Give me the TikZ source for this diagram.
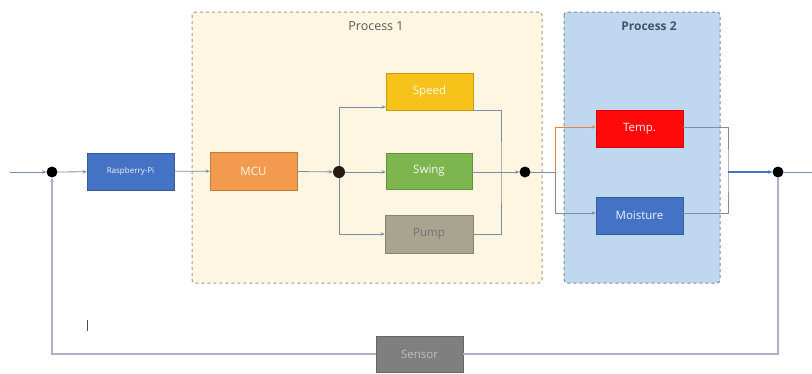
\documentclass[tikz,border=0pt]{standalone}
\usepackage{fontspec}
\setmainfont{Open Sans}
\usetikzlibrary{arrows.meta}
\definecolor{cBlue}{HTML}{4472C4}
\definecolor{cOrange}{HTML}{F29A4E}
\definecolor{cYellow}{HTML}{F7C21A}
\definecolor{cGreen}{HTML}{7DB54F}
\definecolor{cPump}{HTML}{A8A48F}
\definecolor{cRed}{HTML}{FF0A0A}
\definecolor{cSensor}{HTML}{7F7F7F}
\definecolor{pOneFill}{HTML}{FFF6E2}
\definecolor{pTwoFill}{HTML}{BFD8EF}
\definecolor{frameGray}{HTML}{9A9A9A}
\definecolor{lineCol}{HTML}{7F8CA6}
\definecolor{fbCol}{HTML}{A9B2C8}
\definecolor{slate}{HTML}{44546A}
\begin{document}
\begin{tikzpicture}[x=1pt,y=-1pt,
  blk/.style={draw=#1!80!black, fill=#1, line width=0.6pt, minimum width=87pt, minimum height=37pt, inner sep=0pt, text=white!92!#1, font=\fontsize{11.5}{13}\selectfont},
  dotnode/.style={circle, fill=black, minimum size=11pt, inner sep=0pt},
  conn/.style={draw=lineCol, line width=0.8pt},
  arr/.style={conn, -{Stealth[length=4pt,width=3.5pt]}},
  frame/.style={dashed, line width=1pt, draw=frameGray, rounded corners=3pt}]
\useasboundingbox (0,0) rectangle (812,373);
% process frames
\draw[frame, fill=pOneFill] (192,12) rectangle (542,283);
\draw[frame, fill=pTwoFill, draw=lineCol] (564,12) rectangle (720,283);
\node[text=black!65, font=\fontsize{12.5}{14}\selectfont] (p1) at (376,26) {Process 1};
\node[text=slate, font=\bfseries\fontsize{12}{14}\selectfont] (p2) at (649,26) {Process 2};
% blocks
\node[blk=cBlue, font=\fontsize{8}{9}\selectfont] (rpi) at (130.5,171.5) {Raspberry-Pi};
\node[blk=cOrange, minimum height=38pt] (mcu) at (253.5,171) {MCU};
\node[blk=cYellow] (speed) at (429.5,91.5) {Speed};
\node[blk=cGreen, minimum width=86pt, minimum height=36pt] (swing) at (429,171) {Swing};
\node[blk=cPump, minimum width=88pt, minimum height=38pt, text=black!55] (pump) at (429,234) {Pump};
\node[blk=cRed] (temp) at (639.5,128.5) {Temp.};
\node[blk=cBlue] (moist) at (639.5,215.5) {Moisture};
\node[blk=cSensor, minimum height=36pt, text=black!25] (sensor) at (419.5,354) {Sensor};
% junction dots
\node[dotnode] (d1) at (52,172) {};
\node[dotnode, fill=black!80!brown, minimum size=12pt] (d2) at (339,172) {};
\node[dotnode] (d3) at (525,172) {};
\node[dotnode] (d4) at (778,172) {};
\coordinate (in) at (10,172);
\coordinate (out) at (812,172);
\coordinate (j1) at (501,172);
\coordinate (j2) at (555,172);
\coordinate (j3) at (728,172);
% connectors
\draw[arr] (in) -- (d1);
\draw[arr] (d1) -- (rpi);
\draw[arr] (rpi) -- (mcu);
\draw[arr] (mcu) -- (d2);
\draw[arr] (d2) -- (swing.west |- d2);
\draw[arr] (d2.north) |- (speed.west |- 0,107);
\draw[arr] (d2.south) |- (pump.west);
\draw[conn] (speed.east |- 0,110) -| (j1) |- (pump.east);
\draw[arr] (swing.east |- d3) -- (d3);
\draw[conn] (d3) -- (j2);
\draw[arr, draw=cOrange!80!red] (j2) |- (temp.west |- 0,127);
\draw[arr] (j2) |- (moist.west |- 0,213);
\draw[conn] (temp.east |- 0,127) -| (j3) |- (moist.east |- 0,213);
\draw[arr, draw=cBlue, line width=1.2pt] (j3) -- (d4);
\draw[conn] (d4) -- (out);
% feedback
\draw[draw=fbCol, line width=1.4pt] (d4.south) |- (sensor.east);
\draw[draw=fbCol, line width=1.4pt, -{Stealth[length=4pt,width=3.5pt]}] (sensor.west) -| (d1.south);
% stray cursor mark
\draw[black!70, line width=0.8pt] (87,320) -- (87,331);
\end{tikzpicture}
\end{document}
